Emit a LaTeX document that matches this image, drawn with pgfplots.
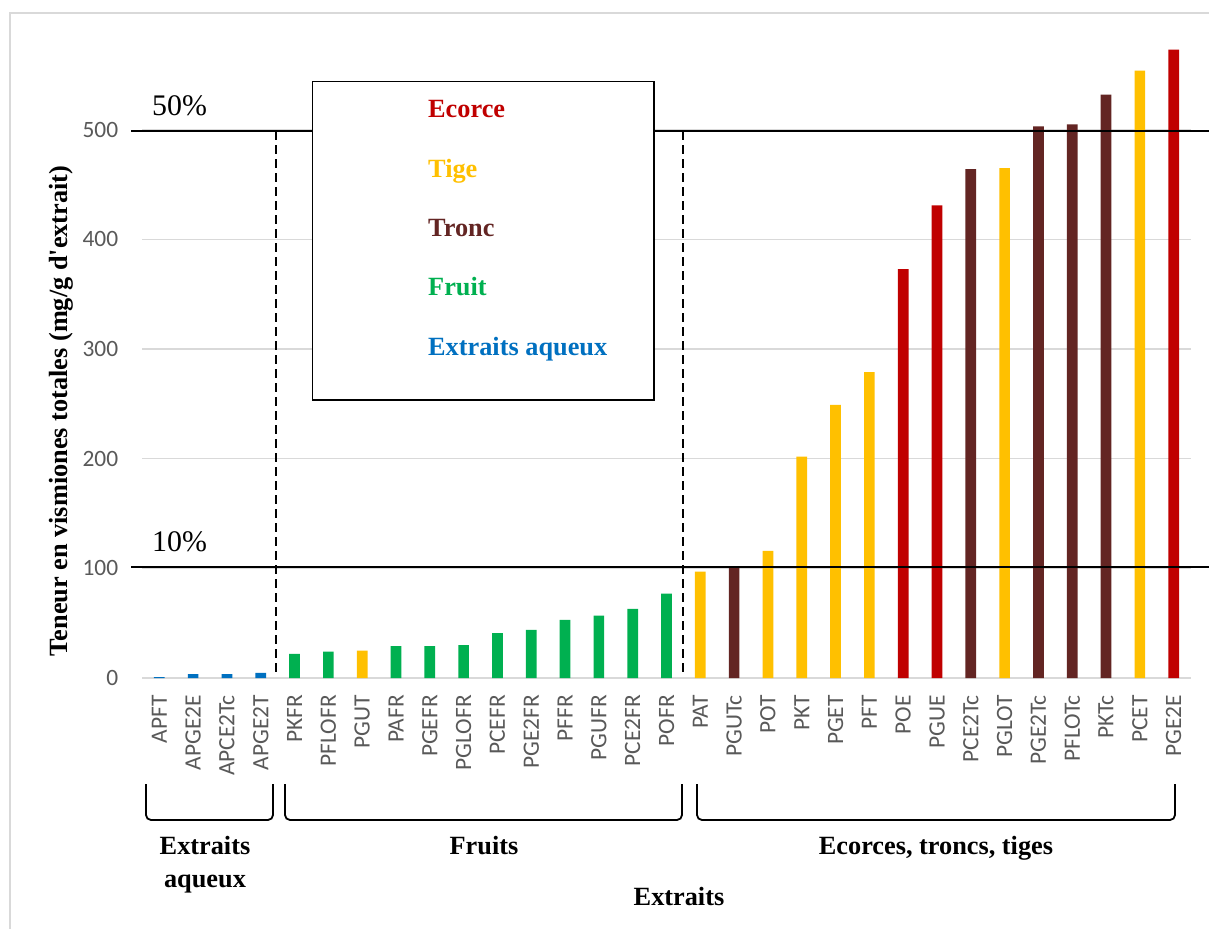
\documentclass[border=0pt]{standalone}
\usepackage{fontspec}
\setmainfont{Liberation Serif}
\newfontfamily\carlito{Carlito}
\usepackage{pgfplots}
\pgfplotsset{compat=1.18}

\definecolor{ecorce}{HTML}{C00000}
\definecolor{tige}{HTML}{FFC000}
\definecolor{tronc}{HTML}{632523}
\definecolor{fruit}{HTML}{00B050}
\definecolor{aqueux}{HTML}{0070C0}
\definecolor{tickgray}{HTML}{595959}
\definecolor{gridgray}{HTML}{D9D9D9}

\begin{document}
\begin{tikzpicture}[x=1bp,y=1bp]
% picture is 1209 x 929 bp, origin at top left, y downwards negative
\useasboundingbox (0,0) rectangle (1209,-929);
\fill[white] (0,0) rectangle (1209,-929);
\draw[gridgray, line width=1.5bp] (10,-929) -- (10,-13) -- (1209,-13);

\begin{axis}[
    at={(142.4bp,-678bp)}, anchor=south west,
    scale only axis,
    width=1048.2bp, height=657.9bp,
    xmin=-0.5, xmax=30.5,
    ymin=0, ymax=600,
    axis line style={draw=none},
    tick style={draw=none},
    ytick={0,100,...,500},
    ymajorgrids=true,
    grid style={draw=gridgray, line width=1.5bp},
    xtick={0,...,30},
    xticklabels={APFT,APGE2E,APCE2Tc,APGE2T,PKFR,PFLOFR,PGUT,PAFR,PGEFR,PGLOFR,PCEFR,PGE2FR,PFFR,PGUFR,PCE2FR,POFR,PAT,PGUTc,POT,PKT,PGET,PFT,POE,PGUE,PCE2Tc,PGLOT,PGE2Tc,PFLOTc,PKTc,PCET,PGE2E},
    /pgf/number format/assume math mode=true,
    ticklabel style={font=\carlito\fontsize{23.5}{23.5}\selectfont, text=tickgray, inner sep=0pt},
    xticklabel style={rotate=90, anchor=east},
    yticklabel style={anchor=east},
    xticklabel shift=17bp,
    yticklabel shift=24bp,
]
% zero line
\draw[gridgray, line width=1.5bp] (axis cs:-0.5,0) -- (axis cs:30.5,0);

% Extraits aqueux
\addplot[ybar, bar width=10.7bp, bar shift=0pt, fill=aqueux, draw=none] coordinates {
    (0,0.8) (1,3.6) (2,3.6) (3,4.8)
};
% Fruit
\addplot[ybar, bar width=10.7bp, bar shift=0pt, fill=fruit, draw=none] coordinates {
    (4,22) (5,24) (7,29) (8,29) (9,30) (10,41) (11,44) (12,53) (13,57) (14,63) (15,77)
};
% Tige
\addplot[ybar, bar width=10.7bp, bar shift=0pt, fill=tige, draw=none] coordinates {
    (6,25) (16,97) (18,116) (19,202) (20,249) (21,279) (25,465) (29,554)
};
% Tronc
\addplot[ybar, bar width=10.7bp, bar shift=0pt, fill=tronc, draw=none] coordinates {
    (17,102) (24,464) (26,503) (27,505) (28,532)
};
% Ecorce
\addplot[ybar, bar width=10.7bp, bar shift=0pt, fill=ecorce, draw=none] coordinates {
    (22,373) (23,431) (30,573)
};
\end{axis}

% 10% and 50% threshold lines
\draw[black, line width=2bp] (131,-130.5) -- (1209,-130.5);
\draw[black, line width=2bp] (131,-567) -- (1209,-567);
\node[anchor=base west, inner sep=0pt, font=\fontsize{30}{30}\selectfont] at (152,-115) {50\%};
\node[anchor=base west, inner sep=0pt, font=\fontsize{30}{30}\selectfont] at (152,-551) {10\%};

% group separators
\draw[black, line width=2bp, dash pattern=on 9bp off 5bp] (276,-131) -- (276,-672);
\draw[black, line width=2bp, dash pattern=on 9bp off 5bp] (682.5,-131) -- (682.5,-672);

% legend box
\draw[black, fill=white, line width=1.5bp] (312.7,-81.7) rectangle (654,-400);
\begin{scope}[every node/.style={anchor=base west, inner sep=0pt, font=\bfseries\fontsize{26.4}{26.4}\selectfont}]
\node[text=ecorce] at (428,-117.7) {Ecorce};
\node[text=tige] at (428,-177) {Tige};
\node[text=tronc] at (428,-236.7) {Tronc};
\node[text=fruit] at (428,-295.7) {Fruit};
\node[text=aqueux] at (428,-355.7) {Extraits aqueux};
\end{scope}

% brackets under the categories
\draw[black, line width=1.8bp, rounded corners=5bp] (146,-784) -- (146,-820) -- (273,-820) -- (273,-784);
\draw[black, line width=1.8bp, rounded corners=5bp] (285,-784) -- (285,-820) -- (682,-820) -- (682,-784);
\draw[black, line width=1.8bp, rounded corners=5bp] (697,-784) -- (697,-820) -- (1175,-820) -- (1175,-784);

\begin{scope}[every node/.style={anchor=base, inner sep=0pt, font=\bfseries\fontsize{26.4}{26.4}\selectfont}]
\node at (205,-854) {Extraits};
\node at (205,-887) {aqueux};
\node at (484,-854) {Fruits};
\node at (936,-854) {Ecorces, troncs, tiges};
\node at (679,-905.7) {Extraits};
\node[rotate=90] at (67.5,-411) {Teneur en vismiones totales (mg/g d\textquotesingle extrait)};
\end{scope}
\end{tikzpicture}
\end{document}
